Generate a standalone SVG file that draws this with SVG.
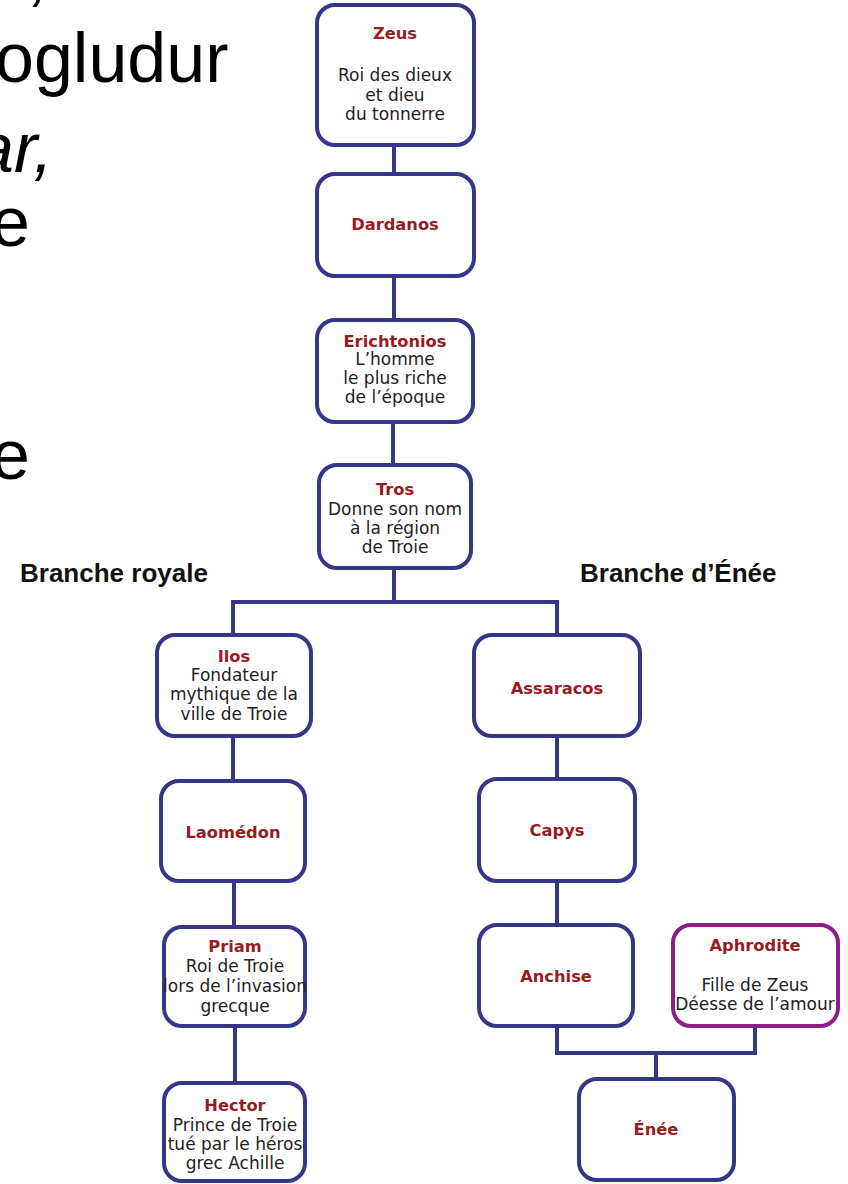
<svg xmlns="http://www.w3.org/2000/svg" width="848" height="1184" viewBox="0 0 848 1184">
<style>
.box{fill:#fff;stroke:#363689;stroke-width:4}
.pbox{fill:#fff;stroke:#8a1f8c;stroke-width:4}
.con{fill:none;stroke:#363689;stroke-width:4}
.t{font-family:"DejaVu Sans",Verdana,sans-serif;font-weight:bold;font-size:16.3px;fill:#981b1e;text-anchor:middle}
.d{font-family:"DejaVu Sans",Verdana,sans-serif;font-size:17px;fill:#222;text-anchor:middle}
.big{font-family:"Liberation Sans",Arial,sans-serif;font-size:70px;fill:#000}
.br{font-family:"Liberation Sans",Arial,sans-serif;font-weight:bold;font-size:26px;fill:#111}
</style>
<rect width="848" height="1184" fill="#fff"/>
<g id="bgtext">
<text class="big" x="31" y="-2" font-style="italic">,</text>
<text class="big" x="-5" y="82">ogludur</text>
<text class="big" x="-25" y="172" font-style="italic">ar,</text>
<text class="big" x="-9" y="246">e</text>
<text class="big" x="-9" y="479">e</text>
</g>
<g id="labels">
<text class="br" x="20" y="582">Branche royale</text>
<text class="br" x="580" y="582">Branche d’Énée</text>
</g>
<g id="connectors">
<path class="con" d="M394 144V174"/>
<path class="con" d="M394 278V320"/>
<path class="con" d="M393 424V465"/>
<path class="con" d="M394 570V602M233 635V602H557V635"/>
<path class="con" d="M233 738V781"/>
<path class="con" d="M557 738V779"/>
<path class="con" d="M234 883V927"/>
<path class="con" d="M557 883V925"/>
<path class="con" d="M235 1028V1083"/>
<path class="con" d="M557 1028V1053H755V1028M656 1053V1079"/>
</g>
<g id="zeus">
<rect class="box" x="317" y="5" width="157" height="140" rx="18"/>
<text class="t" x="395" y="39">Zeus</text>
<text class="d" x="395" y="81">Roi des dieux</text>
<text class="d" x="395" y="101">et dieu</text>
<text class="d" x="395" y="120">du tonnerre</text>
</g>
<g id="dardanos">
<rect class="box" x="317" y="174" width="157" height="102" rx="18"/>
<text class="t" x="395" y="230">Dardanos</text>
</g>
<g id="erichtonios">
<rect class="box" x="317" y="320" width="156" height="102" rx="18"/>
<text class="t" x="395" y="347">Erichtonios</text>
<text class="d" x="395" y="365">L’homme</text>
<text class="d" x="395" y="384">le plus riche</text>
<text class="d" x="395" y="403">de l’époque</text>
</g>
<g id="tros">
<rect class="box" x="319" y="465" width="152" height="103" rx="18"/>
<text class="t" x="395" y="495">Tros</text>
<text class="d" x="395" y="515">Donne son nom</text>
<text class="d" x="395" y="534">à la région</text>
<text class="d" x="395" y="553">de Troie</text>
</g>
<g id="ilos">
<rect class="box" x="157" y="635" width="154" height="101" rx="18"/>
<text class="t" x="234" y="662">Ilos</text>
<text class="d" x="234" y="681">Fondateur</text>
<text class="d" x="234" y="700">mythique de la</text>
<text class="d" x="234" y="720">ville de Troie</text>
</g>
<g id="assaracos">
<rect class="box" x="474" y="635" width="166" height="101" rx="18"/>
<text class="t" x="557" y="694">Assaracos</text>
</g>
<g id="laomedon">
<rect class="box" x="161" y="781" width="144" height="100" rx="18"/>
<text class="t" x="233" y="838">Laomédon</text>
</g>
<g id="capys">
<rect class="box" x="479" y="779" width="156" height="102" rx="18"/>
<text class="t" x="557" y="836">Capys</text>
</g>
<g id="priam">
<rect class="box" x="164" y="927" width="141" height="99" rx="18"/>
<text class="t" x="235" y="952">Priam</text>
<text class="d" x="235" y="972">Roi de Troie</text>
<text class="d" x="235" y="992">lors de l’invasion</text>
<text class="d" x="235" y="1012">grecque</text>
</g>
<g id="hector">
<rect class="box" x="164" y="1083" width="141" height="98" rx="18"/>
<text class="t" x="235" y="1111">Hector</text>
<text class="d" x="235" y="1131">Prince de Troie</text>
<text class="d" x="235" y="1150">tué par le héros</text>
<text class="d" x="235" y="1169">grec Achille</text>
</g>
<g id="anchise">
<rect class="box" x="479" y="925" width="154" height="101" rx="18"/>
<text class="t" x="556" y="982">Anchise</text>
</g>
<g id="aphrodite">
<rect class="pbox" x="673" y="925" width="165" height="101" rx="18"/>
<text class="t" x="755" y="951">Aphrodite</text>
<text class="d" x="755" y="991">Fille de Zeus</text>
<text class="d" x="755" y="1010">Déesse de l’amour</text>
</g>
<g id="enee">
<rect class="box" x="579" y="1079" width="155" height="101" rx="18"/>
<text class="t" x="656" y="1135">Énée</text>
</g>
</svg>
